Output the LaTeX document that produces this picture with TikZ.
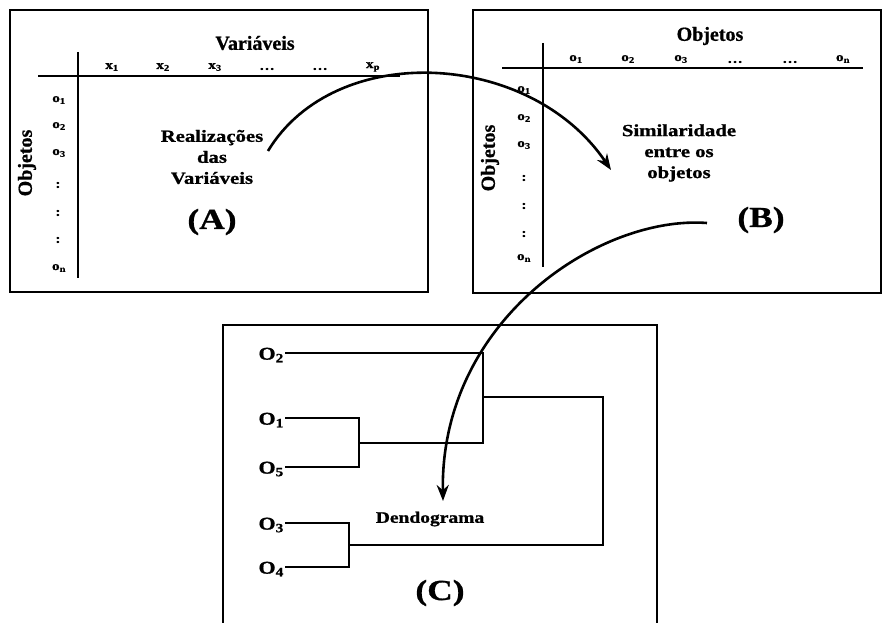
\documentclass[tikz,border=0pt]{standalone}
\usepackage{fontspec}
\setmainfont{Liberation Serif}[BoldFeatures={FakeBold=0.8}]
\newfontfamily\widefont{Liberation Serif}[FakeStretch=1.22,BoldFeatures={FakeBold=1}]
\usetikzlibrary{arrows.meta}
\begin{document}
\begin{tikzpicture}[x=1pt,y=-1pt,
  panel/.style={line width=1.8pt},
  axis/.style={line width=1.8pt},
  tree/.style={line width=1.4pt},
  flow/.style={line width=2.6pt,-{Stealth[length=16pt,width=12pt]}},
  lab/.style={font=\widefont\bfseries\fontsize{12.5}{12.5}\selectfont,inner sep=0pt},
  head/.style={font=\bfseries\fontsize{20}{20}\selectfont,inner sep=0pt},
  body/.style={font=\widefont\bfseries\fontsize{17}{21}\selectfont,align=center,inner sep=0pt},
  tag/.style={font=\widefont\bfseries\fontsize{29}{29}\selectfont,inner sep=0pt},
  leaf/.style={font=\widefont\bfseries\fontsize{18}{18}\selectfont,inner sep=1pt,anchor=east}]
\useasboundingbox (0,0) rectangle (884,623);

% panel A: data matrix
\draw[panel] (10,10) rectangle (428,292);
\draw[axis] (38,76) -- (400,76);
\draw[axis] (78,52) -- (78,278);
\node[head] (va) at (255,43) {Variáveis};
\node[lab] (ax1) at (112,67) {x\textsubscript{1}};
\node[lab] (ax2) at (163,67) {x\textsubscript{2}};
\node[lab] (ax3) at (215,67) {x\textsubscript{3}};
\node[lab] (ad1) at (267,69) {\dots};
\node[lab] (ad2) at (320,69) {\dots};
\node[lab] (axp) at (373,67) {x\textsubscript{p}};
\node[lab] (ao1) at (59,100) {o\textsubscript{1}};
\node[lab] (ao2) at (59,126) {o\textsubscript{2}};
\node[lab] (ao3) at (59,153) {o\textsubscript{3}};
\node[lab] (ac1) at (58,185) {:};
\node[lab] (ac2) at (58,213) {:};
\node[lab] (ac3) at (58,240) {:};
\node[lab] (aon) at (59,268) {o\textsubscript{n}};
\node[head,rotate=90] (aobj) at (27,163) {Objetos};
\node[body] (real) at (212,157) {Realizações\\das\\Variáveis};
\node[tag] (tA) at (212,222) {(A)};

% panel B: similarity matrix
\draw[panel] (473,10) rectangle (881,293);
\draw[axis] (502,68) -- (863,68);
\draw[axis] (543,43) -- (543,267);
\node[head] (ob) at (710,36) {Objetos};
\node[lab] (bx1) at (576,59) {o\textsubscript{1}};
\node[lab] (bx2) at (628,59) {o\textsubscript{2}};
\node[lab] (bx3) at (681,59) {o\textsubscript{3}};
\node[lab] (bd1) at (735,62) {\dots};
\node[lab] (bd2) at (790,62) {\dots};
\node[lab] (bxn) at (843,59) {o\textsubscript{n}};
\node[lab] (bo1) at (524,90) {o\textsubscript{1}};
\node[lab] (bo2) at (524,118) {o\textsubscript{2}};
\node[lab] (bo3) at (524,145) {o\textsubscript{3}};
\node[lab] (bc1) at (524,178) {:};
\node[lab] (bc2) at (524,206) {:};
\node[lab] (bc3) at (524,234) {:};
\node[lab] (bon) at (524,258) {o\textsubscript{n}};
\node[head,rotate=90] (bobj) at (490,158) {Objetos};
\node[body] (sim) at (679,153) {Similaridade\\entre os\\objetos};
\node[tag] (tB) at (761,220) {(B)};

% panel C: dendrogram
\draw[panel] (223,623) -- (223,325) -- (657,325) -- (657,623);
\node[leaf] (l2) at (285,355) {O\textsubscript{2}};
\node[leaf] (l1) at (285,420) {O\textsubscript{1}};
\node[leaf] (l5) at (285,469) {O\textsubscript{5}};
\node[leaf] (l3) at (285,525) {O\textsubscript{3}};
\node[leaf] (l4) at (285,569) {O\textsubscript{4}};
\coordinate (j15) at (359,443);
\coordinate (j34) at (349,545);
\coordinate (j215) at (483,397);
\draw[tree] (l1.east |- 0,418) -| (j15) |- (l5.east |- 0,467);
\draw[tree] (l3.east |- 0,523) -| (j34) |- (l4.east |- 0,567);
\draw[tree] (l2.east |- 0,353) -| (j215) |- (j15);
\draw[tree] (j215) -- (603,397) |- (j34);
\node[font=\widefont\bfseries\fontsize{16}{16}\selectfont,inner sep=0pt] (dend) at (430,519) {Dendograma};
\node[tag] (tC) at (440,593) {(C)};

% flow between the panels
\coordinate (s1) at (268,151);
\coordinate (e1) at (611,170);
\draw[flow] (s1) .. controls (335,40) and (530,50) .. (e1);
\coordinate (s2) at (707,223);
\coordinate (e2) at (443,501);
\draw[flow] (s2) .. controls (600,215) and (440,320) .. (e2);
\end{tikzpicture}
\end{document}
